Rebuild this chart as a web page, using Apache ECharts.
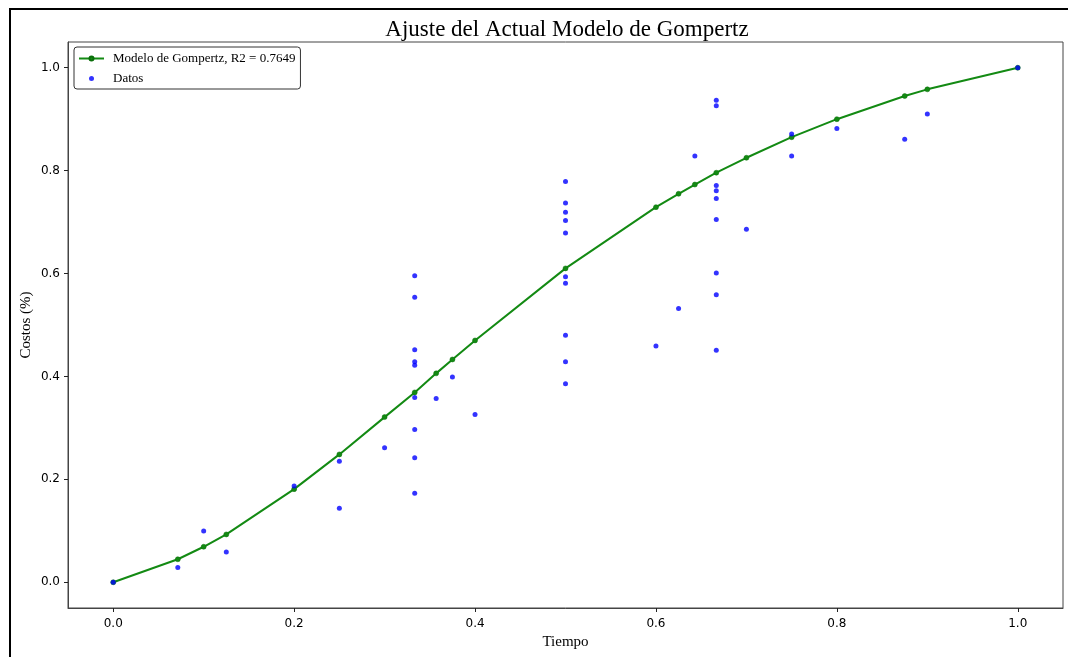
<!DOCTYPE html>
<html>
<head>
<meta charset="utf-8">
<script src="https://cdn.jsdelivr.net/npm/echarts@6/dist/echarts.min.js"></script>
<style>
html,body{margin:0;padding:0;background:#fff;}
#chart{width:1068px;height:657px;}
</style>
</head>
<body>
<div id="chart"></div>
<script>
// Model (Gompertz fit) curve
const modelX = [0, 0.0714, 0.1, 0.125, 0.2, 0.25, 0.3, 0.3333, 0.357, 0.375, 0.4, 0.5, 0.6, 0.625, 0.643, 0.6667, 0.7, 0.75, 0.8, 0.875, 0.9, 1.0];
const modelY = [0, 0.0447, 0.069, 0.093, 0.181, 0.2485, 0.321, 0.369, 0.406, 0.433, 0.470, 0.610, 0.729, 0.755, 0.773, 0.796, 0.825, 0.865, 0.900, 0.945, 0.958, 1.0];

// Observed data points
const dataX = [0, 0.0714, 0.1, 0.125, 0.2, 0.25, 0.25, 0.3,
  0.3333, 0.3333, 0.3333, 0.3333, 0.3333, 0.3333, 0.3333, 0.3333, 0.3333,
  0.357, 0.375, 0.4,
  0.5, 0.5, 0.5, 0.5, 0.5, 0.5, 0.5, 0.5, 0.5, 0.5,
  0.6, 0.625, 0.643,
  0.6667, 0.6667, 0.6667, 0.6667, 0.6667, 0.6667, 0.6667, 0.6667, 0.6667,
  0.7, 0.75, 0.75, 0.8, 0.875, 0.9, 1.0];
const dataY = [0, 0.0285, 0.0996, 0.059, 0.187, 0.235, 0.144, 0.2615,
  0.5955, 0.554, 0.452, 0.4285, 0.422, 0.359, 0.297, 0.242, 0.173,
  0.357, 0.399, 0.326,
  0.779, 0.737, 0.719, 0.703, 0.679, 0.594, 0.581, 0.480, 0.4285, 0.386,
  0.459, 0.532, 0.8285,
  0.937, 0.926, 0.771, 0.761, 0.746, 0.705, 0.601, 0.559, 0.451,
  0.686, 0.871, 0.8285, 0.882, 0.861, 0.910, 1.0];

const xTicks = [0, 0.2, 0.4, 0.6, 0.8, 1.0];
const yTicks = [0, 0.2, 0.4, 0.6, 0.8, 1.0];

const titleText = 'Ajuste del Actual Modelo de Gompertz';
const modelName = 'Modelo de Gompertz, R2 = 0.7649';
const dataName = 'Datos';
const xName = 'Tiempo';
const yName = 'Costos (%)';

const serif = '"Liberation Serif", "Times New Roman", serif';
const sans = '"DejaVu Sans", sans-serif';

const chart = echarts.init(document.getElementById('chart'), null, {renderer: 'canvas'});

const axisCommon = {
  type: 'value',
  min: -0.05,
  max: 1.05,
  splitLine: {show: false},
  axisLine: {show: true, onZero: false, lineStyle: {color: '#444', width: 1}},
  axisTick: {show: true, length: 4, lineStyle: {color: '#222', width: 1}},
  nameMoveOverlap: false,
  nameTextStyle: {fontFamily: serif, fontSize: 15, color: '#000'}
};

chart.setOption({
  animation: false,
  backgroundColor: '#fff',
  title: {
    text: titleText,
    left: 562,
    textAlign: 'center',
    top: 13,
    textStyle: {fontFamily: serif, fontSize: 23, fontWeight: 'normal', color: '#000'}
  },
  legend: {
    orient: 'vertical',
    left: 74,
    top: 47,
    padding: [5, 5, 4, 4],
    itemWidth: 25,
    itemHeight: 5,
    itemGap: 7,
    backgroundColor: '#fff',
    borderColor: '#333',
    borderWidth: 1,
    borderRadius: 3,
    data: [modelName, dataName],
    textStyle: {fontFamily: serif, fontSize: 13, color: '#000', padding: [0, 0, 0, 4]}
  },
  graphic: [{
    type: 'rect',
    silent: true,
    shape: {x: 10, y: 9, width: 1200, height: 800},
    style: {fill: 'none', stroke: '#000', lineWidth: 2},
    z: 100
  }],
  grid: {
    left: 68, top: 42, right: 5, bottom: 49,
    show: true, borderColor: '#444', borderWidth: 1,
    containLabel: false
  },
  xAxis: Object.assign({}, axisCommon, {
    name: xName,
    nameLocation: 'middle',
    nameGap: 27,
    axisLabel: {
      customValues: xTicks,
      formatter: v => v.toFixed(1),
      fontFamily: sans, fontSize: 12, color: '#000', margin: 10
    },
    axisTick: Object.assign({}, axisCommon.axisTick, {customValues: xTicks})
  }),
  yAxis: Object.assign({}, axisCommon, {
    name: yName,
    nameLocation: 'middle',
    nameGap: 34,
    axisLabel: {
      customValues: yTicks,
      formatter: v => v.toFixed(1),
      fontFamily: sans, fontSize: 12, color: '#000', margin: 8
    },
    axisTick: Object.assign({}, axisCommon.axisTick, {customValues: yTicks})
  }),
  series: [{
    name: modelName,
    type: 'line',
    data: modelX.map((x, i) => [x, modelY[i]]),
    symbol: 'circle',
    symbolSize: 5,
    showSymbol: true,
    itemStyle: {color: '#138a13', borderColor: '#0a6e0a', borderWidth: 0.5},
    lineStyle: {color: '#138a13', width: 2},
    z: 2
  }, {
    name: dataName,
    type: 'scatter',
    data: dataX.map((x, i) => [x, dataY[i]]),
    symbol: 'circle',
    symbolSize: 5,
    itemStyle: {color: '#0000ff'},
    z: 3
  }]
});
</script>
</body>
</html>
